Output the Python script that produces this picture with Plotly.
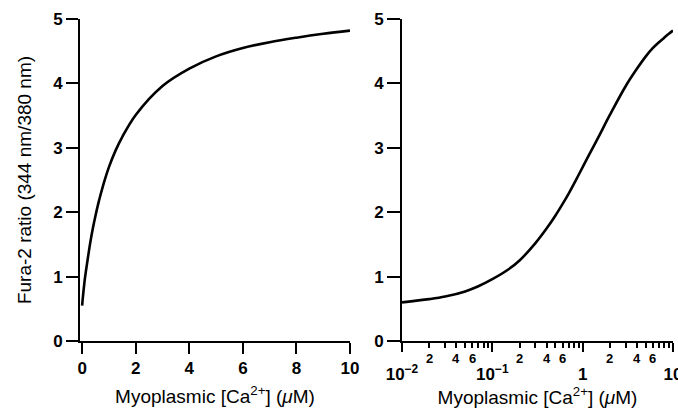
import numpy as np
import plotly.graph_objects as go

# Data
ca_uM = [0, 0.01, 0.02, 0.03, 0.05, 0.07, 0.1, 0.15, 0.2, 0.3, 0.4, 0.5, 0.6, 0.7,
         0.85, 1.0, 1.25, 1.5, 2, 3, 4, 5, 6, 7, 8, 9, 10]
ratio = [0.55, 0.60, 0.65, 0.69, 0.77, 0.85, 0.96, 1.11, 1.25, 1.52, 1.75, 1.95, 2.13, 2.29,
         2.51, 2.70, 2.96, 3.17, 3.51, 3.96, 4.23, 4.42, 4.55, 4.64, 4.71, 4.77, 4.82]

lin_ticks = [0, 2, 4, 6, 8, 10]
y_ticks = [0, 1, 2, 3, 4, 5]
log_major_vals = [0.01, 0.1, 1, 10]
log_major_text = ["10<sup>−2</sup>", "10<sup>−1</sup>", "1", "10"]
log_minor_vals = [m * d for d in (0.01, 0.1, 1) for m in range(2, 10)]
small_label_vals = [m * d for d in (0.01, 0.1, 1) for m in (2, 4, 6)]
small_label_text = ["2", "4", "6"] * 3

FONT = "Liberation Sans, Arial, sans-serif"
TITLE_FONT = dict(family=FONT, size=19, color="black")
TICK_FONT = dict(family=FONT, size=17, color="black", weight="bold")
XTITLE = "Myoplasmic [Ca<sup>2+</sup>] (<i>μ</i>M)"

fig = go.Figure()
fig.add_trace(go.Scatter(x=ca_uM, y=ratio, mode="lines",
                         line=dict(color="black", width=2.6, shape="spline"),
                         xaxis="x", yaxis="y", showlegend=False))
log_x = [c for c in ca_uM if c > 0]
log_y = [r for c, r in zip(ca_uM, ratio) if c > 0]
fig.add_trace(go.Scatter(x=log_x, y=log_y, mode="lines",
                         line=dict(color="black", width=2.6, shape="spline"),
                         xaxis="x2", yaxis="y2", showlegend=False))

W, H = 678, 411
axis_common = dict(showline=True, linecolor="black", linewidth=2, ticks="outside",
                   tickcolor="black", tickwidth=2, showgrid=False, zeroline=False,
                   automargin=False, tickfont=TICK_FONT)

fig.update_layout(
    width=W, height=H,
    margin=dict(l=0, r=0, t=19, b=70),
    paper_bgcolor="white", plot_bgcolor="white",
    xaxis=dict(domain=[80 / W, 350 / W], range=[-0.08, 10], tickvals=lin_ticks,
               ticklen=11, anchor="y",
               title=dict(text=XTITLE, font=TITLE_FONT, standoff=12),
               **axis_common),
    yaxis=dict(domain=[0, 1], range=[0, 5], tickvals=y_ticks, ticklen=12, anchor="x",
               title=dict(text="Fura-2 ratio (344 nm/380 nm)", font=TITLE_FONT, standoff=16),
               **axis_common),
    xaxis2=dict(domain=[402 / W, 673 / W], type="log", range=[-2, 1],
                tickvals=log_major_vals, ticktext=log_major_text, ticklen=9,
                ticklabelstandoff=8, ticklabeloverflow="allow", anchor="y2",
                minor=dict(tickvals=log_minor_vals, ticks="outside", ticklen=5,
                           tickwidth=1.5, tickcolor="black"),
                title=dict(text=XTITLE, font=TITLE_FONT, standoff=4),
                **axis_common),
    yaxis2=dict(domain=[0, 1], range=[0, 5], tickvals=y_ticks, ticklen=13, anchor="x2",
                **axis_common),
)

for v, t in zip(small_label_vals, small_label_text):
    fig.add_annotation(x=np.log10(v), y=0, xref="x2", yref="y2", text=t,
                       showarrow=False, yshift=-17,
                       font=dict(family=FONT, size=13, color="black", weight="bold"))

fig.write_html("out.html", config={"displayModeBar": False},
               post_script="document.body.style.margin='0';document.body.style.overflow='hidden';")
